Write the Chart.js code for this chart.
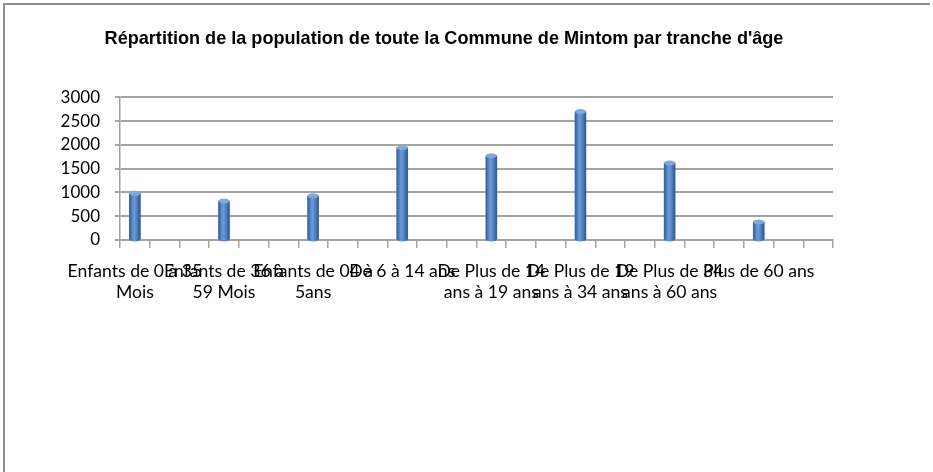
<!DOCTYPE html>
<html>
<head>
<meta charset="utf-8">
<title>Répartition de la population - Mintom</title>
<script src="https://cdn.jsdelivr.net/npm/chart.js@4.4.0/dist/chart.umd.min.js"></script>
<style>
    html, body { margin: 0; padding: 0; background: #fff; }
    #wrap { position: relative; width: 933px; height: 472px; overflow: hidden; }
    #frame {
        position: absolute; left: 3px; top: 3px; width: 925px; height: 480px;
        border-left: 2px solid #8f8f8f; border-top: 2px solid #8f8f8f;
    }
    canvas { position: absolute; left: 0; top: 0; }
</style>
</head>
<body>
<div id="wrap">
    <div id="frame"></div>
    <canvas id="ageChart" width="933" height="472"></canvas>
</div>
<script>
// tranches d'âge (one entry per bar, split in the lines Excel wrapped them in)
const categories = [
    ['Enfants de 0 à 35', 'Mois'],
    ['Enfants de 36 à', '59 Mois'],
    ['Enfants de 04 à', '5ans'],
    ['De 6 à 14 ans'],
    ['De Plus de 14', 'ans à 19 ans'],
    ['De Plus de 19', 'ans à 34 ans'],
    ['De Plus de 34', 'ans à 60 ans'],
    ['Plus de 60 ans'],
];
const population = [980, 820, 930, 1940, 1770, 2700, 1620, 380];
const yTicks = [0, 500, 1000, 1500, 2000, 2500, 3000];

const chartTitle = "Répartition de la population de toute la Commune de Mintom par tranche d'âge";

// the source chart has 3 slots per age group, only the first one is filled
const slotsPerGroup = 3;
const slotLabels = [];
const slotValues = [];
categories.forEach((cat, i) => {
    for (let k = 0; k < slotsPerGroup; k++) {
        slotLabels.push(k === 0 ? cat : '');
        slotValues.push(k === 0 ? population[i] : null);
    }
});

const gridGrey = '#a3a3a3';

// gives the flat bars a cylinder look
const cylinder = {
    id: 'cylinder',
    afterDatasetsDraw(chart) {
        const ctx = chart.ctx;
        const meta = chart.getDatasetMeta(0);
        meta.data.forEach((bar, i) => {
            if (slotValues[i] == null) return;
            const w = bar.width;
            const x0 = bar.x - w / 2;
            const g = ctx.createLinearGradient(x0, 0, x0 + w, 0);
            g.addColorStop(0, '#335f99');
            g.addColorStop(0.4, '#6b9ad6');
            g.addColorStop(0.6, '#5a8bcb');
            g.addColorStop(1, '#2c5790');
            ctx.save();
            ctx.fillStyle = g;
            ctx.fillRect(x0, bar.y, w, bar.base - bar.y);
            ctx.beginPath();
            ctx.ellipse(bar.x, bar.base, w / 2, 2.5, 0, 0, Math.PI);
            ctx.fill();
            ctx.beginPath();
            ctx.ellipse(bar.x, bar.y, w / 2, 2.5, 0, 0, 2 * Math.PI);
            ctx.fillStyle = '#7ea8de';
            ctx.fill();
            ctx.restore();
        });
    }
};

new Chart(document.getElementById('ageChart'), {
    type: 'bar',
    data: {
        labels: slotLabels,
        datasets: [{
            label: 'Population',
            data: slotValues,
            backgroundColor: '#4a7ebb',
            barThickness: 11,
        }],
    },
    plugins: [cylinder],
    options: {
        responsive: false,
        animation: false,
        layout: { padding: { left: 0, right: 45, top: 0, bottom: 0 } },
        plugins: {
            legend: { display: false },
            tooltip: { enabled: false },
            title: {
                display: true,
                text: chartTitle,
                color: '#000',
                font: { family: 'Liberation Sans', weight: 'bold', size: 18.1 },
                padding: { top: 28, bottom: 47.5 },
            },
        },
        scales: {
            x: {
                offset: true,
                grid: {
                    offset: true,
                    drawOnChartArea: false,
                    drawTicks: true,
                    tickLength: 8,
                    color: gridGrey,
                    lineWidth: 1.5,
                },
                border: { display: true, color: gridGrey, width: 1.5 },
                ticks: {
                    autoSkip: false,
                    maxRotation: 0,
                    minRotation: 0,
                    padding: 12,
                    color: '#000',
                    font: { family: 'Lato', size: 17.6, lineHeight: 1.24 },
                },
                afterFit(scale) { scale.height = 232; },
            },
            y: {
                min: 0,
                max: 3000,
                afterBuildTicks(scale) { scale.ticks = yTicks.map(v => ({ value: v })); },
                grid: { color: gridGrey, lineWidth: 2, tickLength: 5 },
                border: { display: true, color: gridGrey, width: 1.5 },
                ticks: {
                    padding: 15,
                    color: '#000',
                    font: { family: 'Lato', size: 17 },
                    callback: (v) => String(v),
                },
                afterFit(scale) { scale.width = 120; },
            },
            spacer: {
                type: 'linear',
                position: 'right',
                grid: { display: false, drawTicks: false },
                border: { display: false },
                ticks: { display: false },
                afterFit(scale) { scale.width = 55; },
            },
        },
    },
});
</script>
</body>
</html>
